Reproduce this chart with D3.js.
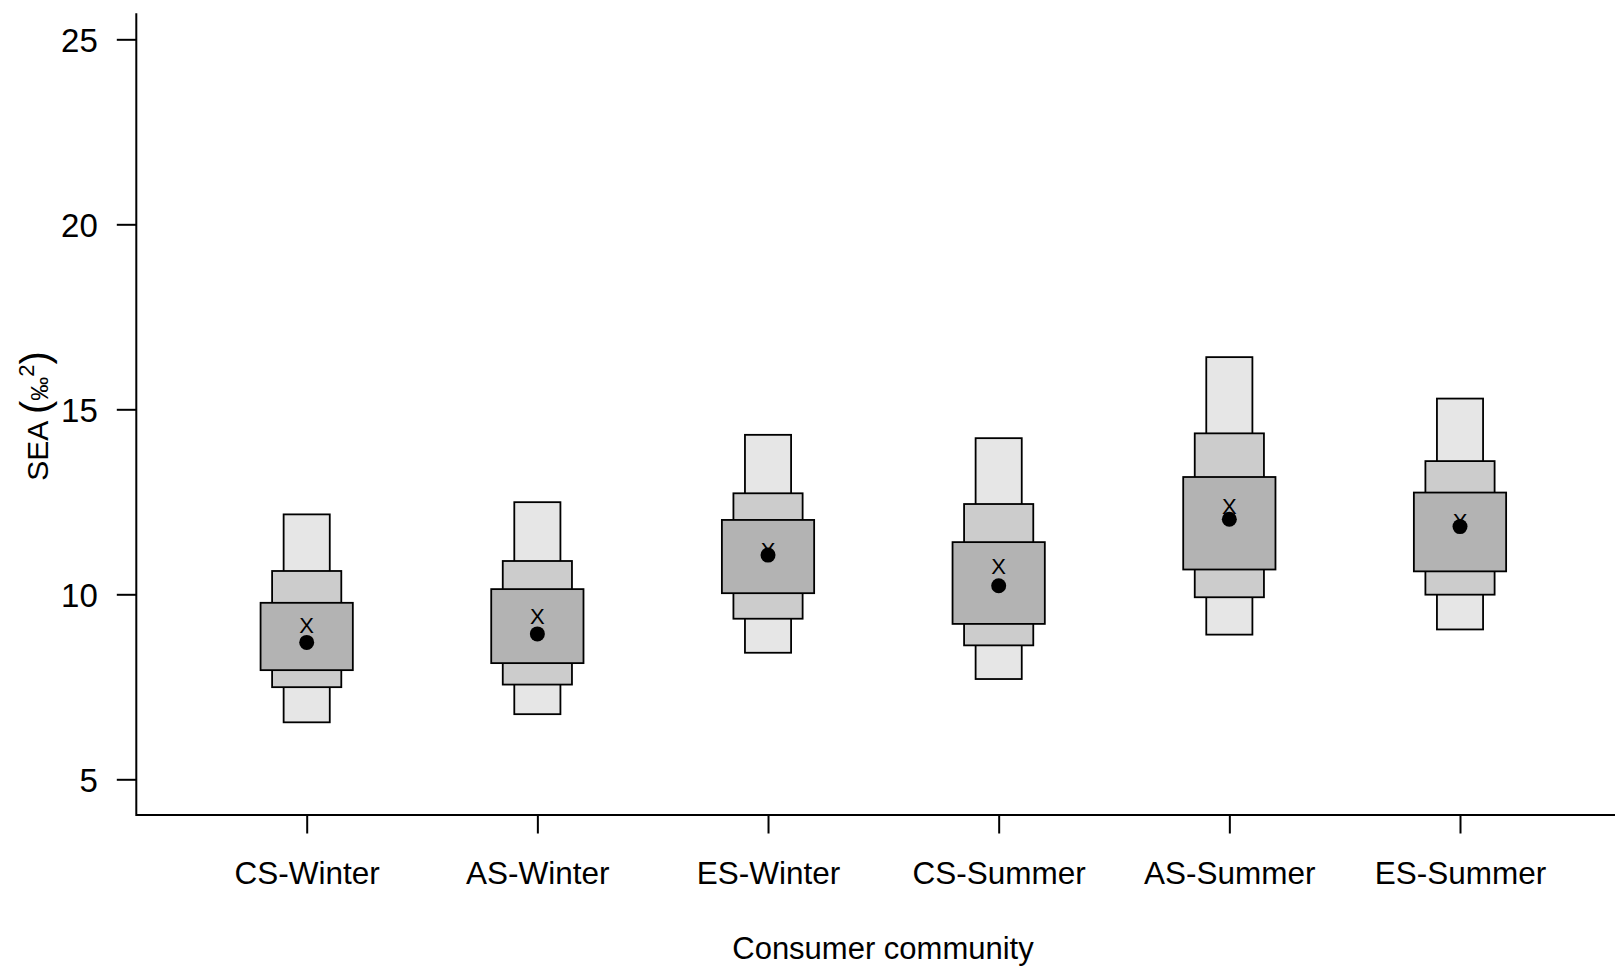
<!DOCTYPE html>
<html>
<head>
<meta charset="utf-8">
<script src="https://cdn.jsdelivr.net/npm/d3@7"></script>
<style>
  html, body { margin: 0; padding: 0; background: #fff; }
  svg { display: block; font-family: "Liberation Sans", Arial, sans-serif; }
</style>
</head>
<body>
<svg id="chart" width="1615" height="966"></svg>
<script>
// ---- data ----
const categories = ["CS-Winter", "AS-Winter", "ES-Winter", "CS-Summer", "AS-Summer", "ES-Summer"];
const ci95Low  = [6.54, 6.76, 8.42, 7.71, 8.91, 9.05];
const ci95High = [12.16, 12.49, 14.31, 14.22, 16.41, 15.29];
const ci75Low  = [7.49, 7.56, 9.34, 8.62, 9.92, 9.99];
const ci75High = [10.63, 10.90, 12.73, 12.44, 14.35, 13.60];
const ci50Low  = [7.95, 8.14, 10.03, 9.20, 10.67, 10.62];
const ci50High = [9.77, 10.14, 12.01, 11.41, 13.17, 12.75];
const modeValues = [8.70, 8.93, 11.06, 10.23, 12.03, 11.83];
const mlValues   = [9.16, 9.41, 11.20, 10.75, 12.39, 11.98];
const yTicks = [5, 10, 15, 20, 25];
const xTitle = "Consumer community";

// ---- layout ----
const svg = d3.select("#chart");
const plotLeft = 136.3, plotBottom = 815, plotTop = 13.3, plotRight = 1615;

const x = d3.scaleLinear().domain([1, 6]).range([306.7, 1460.0]);
const y = d3.scaleLinear().domain([4.035, 25.703]).range([plotBottom, plotTop]);
const unit = x(2) - x(1);

const levels = [
  { lo: ci95Low, hi: ci95High, w: 0.2, fill: "#E6E6E6" },
  { lo: ci75Low, hi: ci75High, w: 0.3, fill: "#CCCCCC" },
  { lo: ci50Low, hi: ci50High, w: 0.4, fill: "#B3B3B3" }
];

const g = svg.append("g");
levels.forEach(lv => {
  g.selectAll(null)
    .data(categories.map((c, i) => i))
    .enter().append("rect")
    .attr("x", i => x(i + 1) - lv.w * unit / 2)
    .attr("width", lv.w * unit)
    .attr("y", i => y(lv.hi[i]))
    .attr("height", i => y(lv.lo[i]) - y(lv.hi[i]))
    .attr("fill", lv.fill)
    .attr("stroke", "#000")
    .attr("stroke-width", 1.8);
});

// ML estimate "X"
g.selectAll(null).data(mlValues).enter().append("text")
  .attr("x", (d, i) => x(i + 1))
  .attr("y", d => y(d))
  .attr("dy", "0.36em")
  .attr("text-anchor", "middle")
  .attr("font-size", 22)
  .attr("fill", "#000")
  .text("X");

// mode dots
g.selectAll(null).data(modeValues).enter().append("circle")
  .attr("cx", (d, i) => x(i + 1))
  .attr("cy", d => y(d))
  .attr("r", 7.5)
  .attr("fill", "#000");

// ---- axes ----
const yAxis = d3.axisLeft(y).tickValues(yTicks).tickSize(19.5).tickPadding(19).tickFormat(d3.format("d"));
const gy = svg.append("g").attr("transform", `translate(${plotLeft},0)`).call(yAxis);
gy.select(".domain").remove();
gy.selectAll(".tick line").attr("stroke", "#000").attr("stroke-width", 2);
gy.selectAll(".tick text").attr("font-size", 33).attr("fill", "#000").attr("font-family", "'Liberation Sans', Arial, sans-serif").attr("dy", "0.38em");

const xAxis = d3.axisBottom(x).tickValues([1, 2, 3, 4, 5, 6]).tickSize(18.5)
  .tickPadding(28).tickFormat(d => categories[d - 1]);
const gx = svg.append("g").attr("transform", `translate(0,${plotBottom})`).call(xAxis);
gx.select(".domain").remove();
gx.selectAll(".tick line").attr("stroke", "#000").attr("stroke-width", 2);
gx.selectAll(".tick text").attr("font-size", 31.5).attr("fill", "#000").attr("font-family", "'Liberation Sans', Arial, sans-serif");

// L-shaped box
svg.append("path")
  .attr("d", `M${plotLeft},${plotTop}V${plotBottom}H${plotRight}`)
  .attr("fill", "none").attr("stroke", "#000").attr("stroke-width", 2);

// axis titles
svg.append("text")
  .attr("x", 883).attr("y", 959)
  .attr("text-anchor", "middle")
  .attr("font-size", 31)
  .attr("fill", "#000")
  .text(xTitle);

const yl = svg.append("text")
  .attr("transform", "translate(48,416) rotate(-90)")
  .attr("text-anchor", "middle")
  .attr("font-size", 30)
  .attr("fill", "#000");
yl.append("tspan").text("SEA ");
yl.append("tspan").attr("font-size", 40).attr("dy", "1").text("(");
yl.append("tspan").attr("font-size", 24).attr("dy", "-1").text("‰");
yl.append("tspan").attr("font-size", 22).attr("dy", "-14").text("2");
yl.append("tspan").attr("font-size", 40).attr("dy", "15").text(")");
</script>
</body>
</html>
